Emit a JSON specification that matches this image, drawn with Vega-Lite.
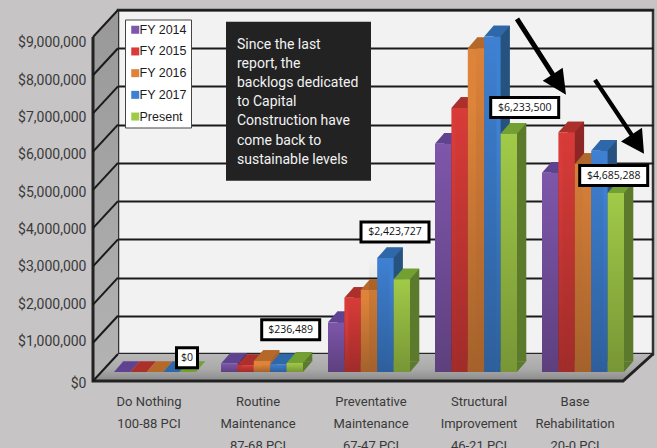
{
  "$schema": "https://vega.github.io/schema/vega-lite/v6.json",
  "width": 535,
  "height": 344,
  "autosize": {"type": "none"},
  "padding": {"left": 118, "top": 10, "right": 4, "bottom": 94},
  "background": "#c6c4c5",
  "view": {"fill": "#f2f2f2", "stroke": "#333333", "strokeWidth": 2.5},
  "datasets": {
    "backlog": [
      {"category": "Do Nothing\n100-88 PCI", "series": "FY 2014", "value": 0},
      {"category": "Do Nothing\n100-88 PCI", "series": "FY 2015", "value": 0},
      {"category": "Do Nothing\n100-88 PCI", "series": "FY 2016", "value": 0},
      {"category": "Do Nothing\n100-88 PCI", "series": "FY 2017", "value": 0},
      {"category": "Do Nothing\n100-88 PCI", "series": "Present", "value": 0},
      {"category": "Routine\nMaintenance\n87-68 PCI", "series": "FY 2014", "value": 220000},
      {"category": "Routine\nMaintenance\n87-68 PCI", "series": "FY 2015", "value": 180000},
      {"category": "Routine\nMaintenance\n87-68 PCI", "series": "FY 2016", "value": 290000},
      {"category": "Routine\nMaintenance\n87-68 PCI", "series": "FY 2017", "value": 200000},
      {"category": "Routine\nMaintenance\n87-68 PCI", "series": "Present", "value": 236489},
      {"category": "Preventative\nMaintenance\n67-47 PCI", "series": "FY 2014", "value": 1300000},
      {"category": "Preventative\nMaintenance\n67-47 PCI", "series": "FY 2015", "value": 1940000},
      {"category": "Preventative\nMaintenance\n67-47 PCI", "series": "FY 2016", "value": 2150000},
      {"category": "Preventative\nMaintenance\n67-47 PCI", "series": "FY 2017", "value": 2980000},
      {"category": "Preventative\nMaintenance\n67-47 PCI", "series": "Present", "value": 2423727},
      {"category": "Structural\nImprovement\n46-21 PCI", "series": "FY 2014", "value": 5970000},
      {"category": "Structural\nImprovement\n46-21 PCI", "series": "FY 2015", "value": 6910000},
      {"category": "Structural\nImprovement\n46-21 PCI", "series": "FY 2016", "value": 8470000},
      {"category": "Structural\nImprovement\n46-21 PCI", "series": "FY 2017", "value": 8780000},
      {"category": "Structural\nImprovement\n46-21 PCI", "series": "Present", "value": 6233500},
      {"category": "Base\nRehabilitation\n20-0 PCI", "series": "FY 2014", "value": 5210000},
      {"category": "Base\nRehabilitation\n20-0 PCI", "series": "FY 2015", "value": 6270000},
      {"category": "Base\nRehabilitation\n20-0 PCI", "series": "FY 2016", "value": 5440000},
      {"category": "Base\nRehabilitation\n20-0 PCI", "series": "FY 2017", "value": 5790000},
      {"category": "Base\nRehabilitation\n20-0 PCI", "series": "Present", "value": 4685288}
    ],
    "ticks": [
      {"tick": 0}, {"tick": 1000000}, {"tick": 2000000}, {"tick": 3000000}, {"tick": 4000000},
      {"tick": 5000000}, {"tick": 6000000}, {"tick": 7000000}, {"tick": 8000000}, {"tick": 9000000}
    ],
    "anchor": [{"note": "annotation"}]
  },
  "layer": [
    {
      "description": "Left wall of the 3D box",
      "data": {"name": "anchor"},
      "mark": {"type": "point", "filled": true, "opacity": 1, "size": 4,
        "shape": "M0,0L-25,27L-25,-317L0,-344Z",
        "color": {"gradient": "linear", "x1": 0, "y1": 0, "x2": 0, "y2": 1, "stops": [{"offset": 0, "color": "#989898"}, {"offset": 1, "color": "#b4b4b4"}]}},
      "encoding": {
        "x": {"datum": "Do Nothing\n100-88 PCI", "type": "nominal", "bandPosition": 0,
          "sort": null,
          "scale": {
            "domain": ["Do Nothing\n100-88 PCI", "Routine\nMaintenance\n87-68 PCI", "Preventative\nMaintenance\n67-47 PCI", "Structural\nImprovement\n46-21 PCI", "Base\nRehabilitation\n20-0 PCI"],
            "paddingInner": 0, "paddingOuter": 0},
          "axis": {
            "title": null, "domain": false, "ticks": false, "grid": false, "labelAngle": 0,
            "labelFont": "Roboto", "labelFontSize": 13, "labelColor": "#3a3a3a",
            "labelPadding": 41.5, "labelLineHeight": 22, "labelBaseline": "top", "labelOverlap": false, "labelBound": false, "labelFlush": false,
            "labelExpr": "split(datum.label, '\\n')",
            "labelOffset": {"expr": "[-22.5, -20.5, -14.5, -13.5, -24.5][round(datum.index * 4)]"}
          }},
        "y": {"datum": 0, "type": "quantitative",
          "scale": {"domain": [0, 9000000], "nice": false},
          "axis": {
            "title": null, "domain": false, "ticks": false, "grid": true, "gridColor": "#1a1a1a", "gridWidth": 2, "gridOpacity": 1,
            "values": [0, 1000000, 2000000, 3000000, 4000000, 5000000, 6000000, 7000000, 8000000, 9000000], "tickCount": 10,
            "format": "$,d", "labelFont": "Roboto", "labelFontSize": 14, "labelColor": "#3a3a3a", "labelPadding": 32, "labelOverlap": false, "labelBound": false, "labelFlush": false,
            "labelOffset": {"expr": "datum.value == 0 ? 29 : 25 + datum.value / 1000000 * 0.85"}
          }}
      }
    },
    {
      "description": "Floor of the 3D box",
      "data": {"name": "anchor"},
      "mark": {"type": "point", "filled": true, "opacity": 1, "size": 4,
        "shape": "M0,0L535,0L505,27L-25,27Z",
        "color": {"gradient": "linear", "x1": 0, "y1": 0, "x2": 0, "y2": 1, "stops": [{"offset": 0, "color": "#b8b8b8"}, {"offset": 0.55, "color": "#aaaaaa"}, {"offset": 1, "color": "#8a8a8a"}]}},
      "encoding": {
        "x": {"datum": "Do Nothing\n100-88 PCI", "type": "nominal", "bandPosition": 0},
        "y": {"datum": 0, "type": "quantitative"}
      }
    },
    {
      "description": "Outer edges: front axis line, floor front and right edges",
      "data": {"name": "anchor"},
      "mark": {"type": "point", "filled": false, "opacity": 1, "size": 4, "stroke": "#222222", "strokeWidth": 3,
        "shape": "M-25,-317L-25,27L505,27L535,0"},
      "encoding": {
        "x": {"datum": "Do Nothing\n100-88 PCI", "type": "nominal", "bandPosition": 0},
        "y": {"datum": 0, "type": "quantitative"}
      }
    },
    {
      "description": "Gridline returns across the left wall",
      "data": {"name": "ticks"},
      "mark": {"type": "point", "filled": false, "opacity": 1, "size": 4, "stroke": "#1a1a1a", "strokeWidth": 2,
        "shape": "M0,0L-25,27"},
      "encoding": {
        "x": {"datum": "Do Nothing\n100-88 PCI", "type": "nominal", "bandPosition": 0},
        "y": {"field": "tick", "type": "quantitative"}
      }
    },
    {
      "description": "Extruded right side of each column",
      "data": {"name": "backlog"},
      "mark": {"type": "bar", "yOffset": 7.3, "y2Offset": 7.3},
      "encoding": {
        "x": {"field": "category", "type": "nominal", "sort": null},
        "xOffset": {"field": "series", "type": "nominal", "sort": null, "scale": {"range": [5.3, 87.3], "paddingInner": 0, "paddingOuter": 0}},
        "y": {"field": "value", "type": "quantitative", "stack": null},
        "y2": {"datum": 0},
        "color": {"field": "series", "type": "nominal", "legend": null, "sort": null,
          "scale": {"domain": ["FY 2014", "FY 2015", "FY 2016", "FY 2017", "Present"], "range": ["#4c3472", "#8e2725", "#a8622a", "#26527f", "#5c7a2c"]}}
      }
    },
    {
      "description": "Lower corner of each column's side",
      "data": {"name": "backlog"},
      "transform": [{"filter": "datum.value > 0"}],
      "mark": {"type": "point", "filled": true, "opacity": 1, "size": 4, "yOffset": 18,
        "shape": "M8.2,0L8.2,-10.7L17.5,-10.7Z"},
      "encoding": {
        "x": {"field": "category", "type": "nominal", "sort": null},
        "xOffset": {"field": "series", "type": "nominal", "sort": null, "scale": {"range": [4.2, 69.8], "padding": 0}},
        "y": {"datum": 0, "type": "quantitative"},
        "color": {"field": "series", "type": "nominal", "legend": null, "sort": null,
          "scale": {"domain": ["FY 2014", "FY 2015", "FY 2016", "FY 2017", "Present"], "range": ["#4c3472", "#8e2725", "#a8622a", "#26527f", "#5c7a2c"]}}
      }
    },
    {
      "description": "Top face of each column",
      "data": {"name": "backlog"},
      "mark": {"type": "point", "filled": true, "opacity": 1, "size": 4, "yOffset": 18,
        "shape": "M-8.2,0L8.2,0L17.5,-10.7L1.1,-10.7Z"},
      "encoding": {
        "x": {"field": "category", "type": "nominal", "sort": null},
        "xOffset": {"field": "series", "type": "nominal", "sort": null, "scale": {"range": [4.2, 69.8], "padding": 0}},
        "y": {"field": "value", "type": "quantitative"},
        "color": {"field": "series", "type": "nominal", "legend": null, "sort": null,
          "scale": {"domain": ["FY 2014", "FY 2015", "FY 2016", "FY 2017", "Present"], "range": ["#5f4390", "#ab302c", "#b4692b", "#2f68a8", "#73a033"]}}
      }
    },
    {
      "description": "Front face of each column, carries the legend",
      "data": {"name": "backlog"},
      "mark": {"type": "bar", "yOffset": 18, "y2Offset": 18},
      "encoding": {
        "x": {"field": "category", "type": "nominal", "sort": null},
        "xOffset": {"field": "series", "type": "nominal", "sort": null, "scale": {"range": [-4, 78], "paddingInner": 0, "paddingOuter": 0}},
        "y": {"field": "value", "type": "quantitative", "stack": null},
        "y2": {"datum": 0},
        "color": {"field": "series", "type": "nominal", "sort": null,
          "scale": {"domain": ["FY 2014", "FY 2015", "FY 2016", "FY 2017", "Present"],
            "range": ["#7e56aa", "#d83b38", "#dd833a", "#3e80d2", "#a1ca48"]},
          "legend": {
            "title": null, "orient": "none", "legendX": 7, "legendY": 9.5, "fillColor": "#ffffff", "strokeColor": "#444444",
            "padding": 4, "symbolType": "square", "symbolSize": 64, "symbolStrokeWidth": 0, "rowPadding": 8.7, "columnPadding": 0,
            "labelFont": "Liberation Sans", "labelFontSize": 12.5, "labelColor": "#1c1c1c", "labelOffset": -2
          }}
      }
    },
    {
      "description": "Shading down the front faces, orange stays flat",
      "data": {"name": "backlog"},
      "transform": [{"filter": "datum.series != 'FY 2016' && datum.value > 0"}],
      "mark": {"type": "bar", "yOffset": 18, "y2Offset": 18,
        "color": {"gradient": "linear", "x1": 0, "y1": 0, "x2": 0, "y2": 1, "stops": [{"offset": 0, "color": "rgba(0,0,0,0)"}, {"offset": 1, "color": "rgba(0,0,0,0.26)"}]}},
      "encoding": {
        "x": {"field": "category", "type": "nominal", "sort": null},
        "xOffset": {"field": "series", "type": "nominal", "sort": null, "scale": {"range": [-4, 78], "paddingInner": 0, "paddingOuter": 0}},
        "y": {"field": "value", "type": "quantitative", "stack": null},
        "y2": {"datum": 0}
      }
    },
    {
      "description": "Two arrows pointing at the latest totals",
      "data": {"name": "anchor"},
      "mark": {"type": "point", "filled": true, "opacity": 1, "size": 4, "color": "#000000", "yOffset": -1.8,
        "shape": "M-80.4,-67.15L-44.7,-11.65L-36.8,-16.8L-33.5,10.2L-56.8,-3.8L-48.9,-8.95L-84.6,-64.45ZM-2.67,-6.01L33.83,48.79L42.5,43.2L44.5,69.2L21.5,56.9L30.17,51.21L-6.33,-3.59Z"},
      "encoding": {
        "x": {"datum": "Base\nRehabilitation\n20-0 PCI", "type": "nominal"},
        "y": {"datum": 7000000, "type": "quantitative"}
      }
    },
    {
      "description": "Note panel",
      "data": {"name": "anchor"},
      "mark": {"type": "point", "filled": true, "opacity": 1, "size": 4, "color": "#222222",
        "shape": "M-52.5,-83.7L92.5,-83.7L92.5,75.3L-52.5,75.3Z"},
      "encoding": {
        "x": {"datum": "Routine\nMaintenance\n87-68 PCI", "type": "nominal"},
        "y": {"datum": 6500000, "type": "quantitative"}
      }
    },
    {
      "description": "Note text",
      "data": {"name": "anchor"},
      "mark": {"type": "text", "align": "left", "baseline": "middle", "xOffset": -41.5, "yOffset": -61,
        "font": "Roboto", "fontSize": 14, "lineHeight": 19.2, "color": "#f2f2f2",
        "text": ["Since the last", "report, the", "backlogs dedicated", "to Capital", "Construction have", "come back to", "sustainable levels"]},
      "encoding": {
        "x": {"datum": "Routine\nMaintenance\n87-68 PCI", "type": "nominal"},
        "y": {"datum": 6500000, "type": "quantitative"}
      }
    },
    {
      "description": "Callout for Do Nothing",
      "data": {"name": "backlog"},
      "transform": [{"filter": "datum.series == 'Present' && datum.value == 0"}],
      "layer": [
        {"mark": {"type": "point", "filled": false, "opacity": 1, "size": 4, "fill": "#ffffff", "stroke": "#000000", "strokeWidth": 3, "xOffset": 15.5, "yOffset": 3.7, "shape": "M-10.5,-10L10.5,-10L10.5,10L-10.5,10Z"}},
        {"mark": {"type": "text", "font": "Open Sans", "fontSize": 10.5, "color": "#111111", "xOffset": 15.5, "yOffset": 3.7}, "encoding": {"text": {"field": "value", "format": "$,d"}}}
      ],
      "encoding": {
        "x": {"field": "category", "type": "nominal", "sort": null},
        "y": {"field": "value", "type": "quantitative"}
      }
    },
    {
      "description": "Callout for Routine Maintenance",
      "data": {"name": "backlog"},
      "transform": [{"filter": "datum.series == 'Present' && datum.value == 236489"}],
      "layer": [
        {"mark": {"type": "point", "filled": false, "opacity": 1, "size": 4, "fill": "#ffffff", "stroke": "#000000", "strokeWidth": 3, "xOffset": 12.2, "yOffset": -15.3, "shape": "M-29,-10L29,-10L29,10L-29,10Z"}},
        {"mark": {"type": "text", "font": "Open Sans", "fontSize": 10.5, "color": "#111111", "xOffset": 12.2, "yOffset": -15.3}, "encoding": {"text": {"field": "value", "format": "$,d"}}}
      ],
      "encoding": {
        "x": {"field": "category", "type": "nominal", "sort": null},
        "y": {"field": "value", "type": "quantitative"}
      }
    },
    {
      "description": "Callout for Preventative Maintenance",
      "data": {"name": "backlog"},
      "transform": [{"filter": "datum.series == 'Present' && datum.value == 2423727"}],
      "layer": [
        {"mark": {"type": "point", "filled": false, "opacity": 1, "size": 4, "fill": "#ffffff", "stroke": "#000000", "strokeWidth": 3, "xOffset": 9.5, "yOffset": -29.4, "shape": "M-34,-10L34,-10L34,10L-34,10Z"}},
        {"mark": {"type": "text", "font": "Open Sans", "fontSize": 10.5, "color": "#111111", "xOffset": 9.5, "yOffset": -29.4}, "encoding": {"text": {"field": "value", "format": "$,d"}}}
      ],
      "encoding": {
        "x": {"field": "category", "type": "nominal", "sort": null},
        "y": {"field": "value", "type": "quantitative"}
      }
    },
    {
      "description": "Callout for Structural Improvement",
      "data": {"name": "backlog"},
      "transform": [{"filter": "datum.series == 'Present' && datum.value == 6233500"}],
      "layer": [
        {"mark": {"type": "point", "filled": false, "opacity": 1, "size": 4, "fill": "#ffffff", "stroke": "#000000", "strokeWidth": 3, "xOffset": 32.2, "yOffset": -8.2, "shape": "M-34,-10L34,-10L34,10L-34,10Z"}},
        {"mark": {"type": "text", "font": "Open Sans", "fontSize": 10.5, "color": "#111111", "xOffset": 32.2, "yOffset": -8.2}, "encoding": {"text": {"field": "value", "format": "$,d"}}}
      ],
      "encoding": {
        "x": {"field": "category", "type": "nominal", "sort": null},
        "y": {"field": "value", "type": "quantitative"}
      }
    },
    {
      "description": "Callout for Base Rehabilitation",
      "data": {"name": "backlog"},
      "transform": [{"filter": "datum.series == 'Present' && datum.value == 4685288"}],
      "layer": [
        {"mark": {"type": "point", "filled": false, "opacity": 1, "size": 4, "fill": "#ffffff", "stroke": "#000000", "strokeWidth": 3, "xOffset": 14.2, "yOffset": 0.7, "shape": "M-34,-10L34,-10L34,10L-34,10Z"}},
        {"mark": {"type": "text", "font": "Open Sans", "fontSize": 10.5, "color": "#111111", "xOffset": 14.2, "yOffset": 0.7}, "encoding": {"text": {"field": "value", "format": "$,d"}}}
      ],
      "encoding": {
        "x": {"field": "category", "type": "nominal", "sort": null},
        "y": {"field": "value", "type": "quantitative"}
      }
    }
  ],
  "resolve": {"scale": {"color": "independent", "xOffset": "independent"}}
}
